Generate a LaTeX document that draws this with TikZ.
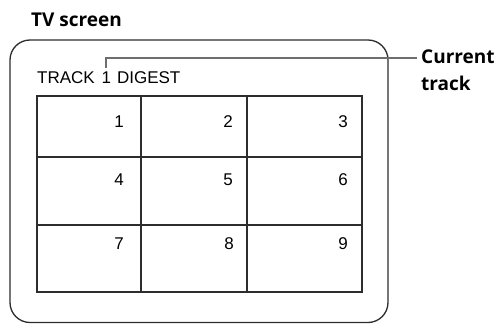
\documentclass[tikz,border=0pt]{standalone}
\usepackage{fontspec}
\setmainfont{Liberation Sans}
\newfontfamily\labelfont{Open Sans}
\usetikzlibrary{positioning}
\definecolor{callgray}{RGB}{110,110,110}
\definecolor{framegray}{RGB}{45,45,45}

\begin{document}
\begin{tikzpicture}[x=1pt, y=-1pt,
  heading/.style={font=\labelfont\bfseries\fontsize{19}{23}\selectfont, inner sep=0pt, anchor=base west},
  screentext/.style={font=\fontsize{17}{20}\selectfont, inner sep=0pt, anchor=base west},
  cellnum/.style={font=\fontsize{17}{20}\selectfont, inner sep=0pt, anchor=base east},
  gridline/.style={line width=1.5pt, framegray},
  callout/.style={line width=2pt, callgray}]

\useasboundingbox (0,0) rectangle (501,324);

\node[heading] (tvlabel) at (31,26) {TV screen};

\draw[line width=1.3pt, framegray, rounded corners=20pt] (10,40) rectangle (388,322.5);


\node[screentext] (trk) at (37,83) {TRACK};
\node[screentext] (tnum) at ([xshift=6.5pt]trk.base east) {1};
\node[screentext] (digest) at ([xshift=5.5pt]tnum.base east) {DIGEST};


\draw[gridline] (37,96) rectangle (362,292);
\draw[gridline] (141,96) -- (141,292);
\draw[gridline] (247,96) -- (247,292);
\draw[gridline] (37,157) -- (362,157);
\draw[gridline] (37,225) -- (362,225);

\foreach \n/\x/\y in {1/124/127, 2/233/127, 3/348/127,
                      4/124/185, 5/233/185, 6/348/185,
                      7/124/249, 8/234/249, 9/348/249}
  \node[cellnum] (cell\n) at (\x,\y) {\n};


\node[heading] (cur) at (421,63) {Current};
\node[heading] (curtrack) at (421,90) {track};
\draw[callout] ([yshift=3pt]tnum.north) |- ([xshift=-4pt,yshift=-2pt]cur.west);

\end{tikzpicture}
\end{document}
